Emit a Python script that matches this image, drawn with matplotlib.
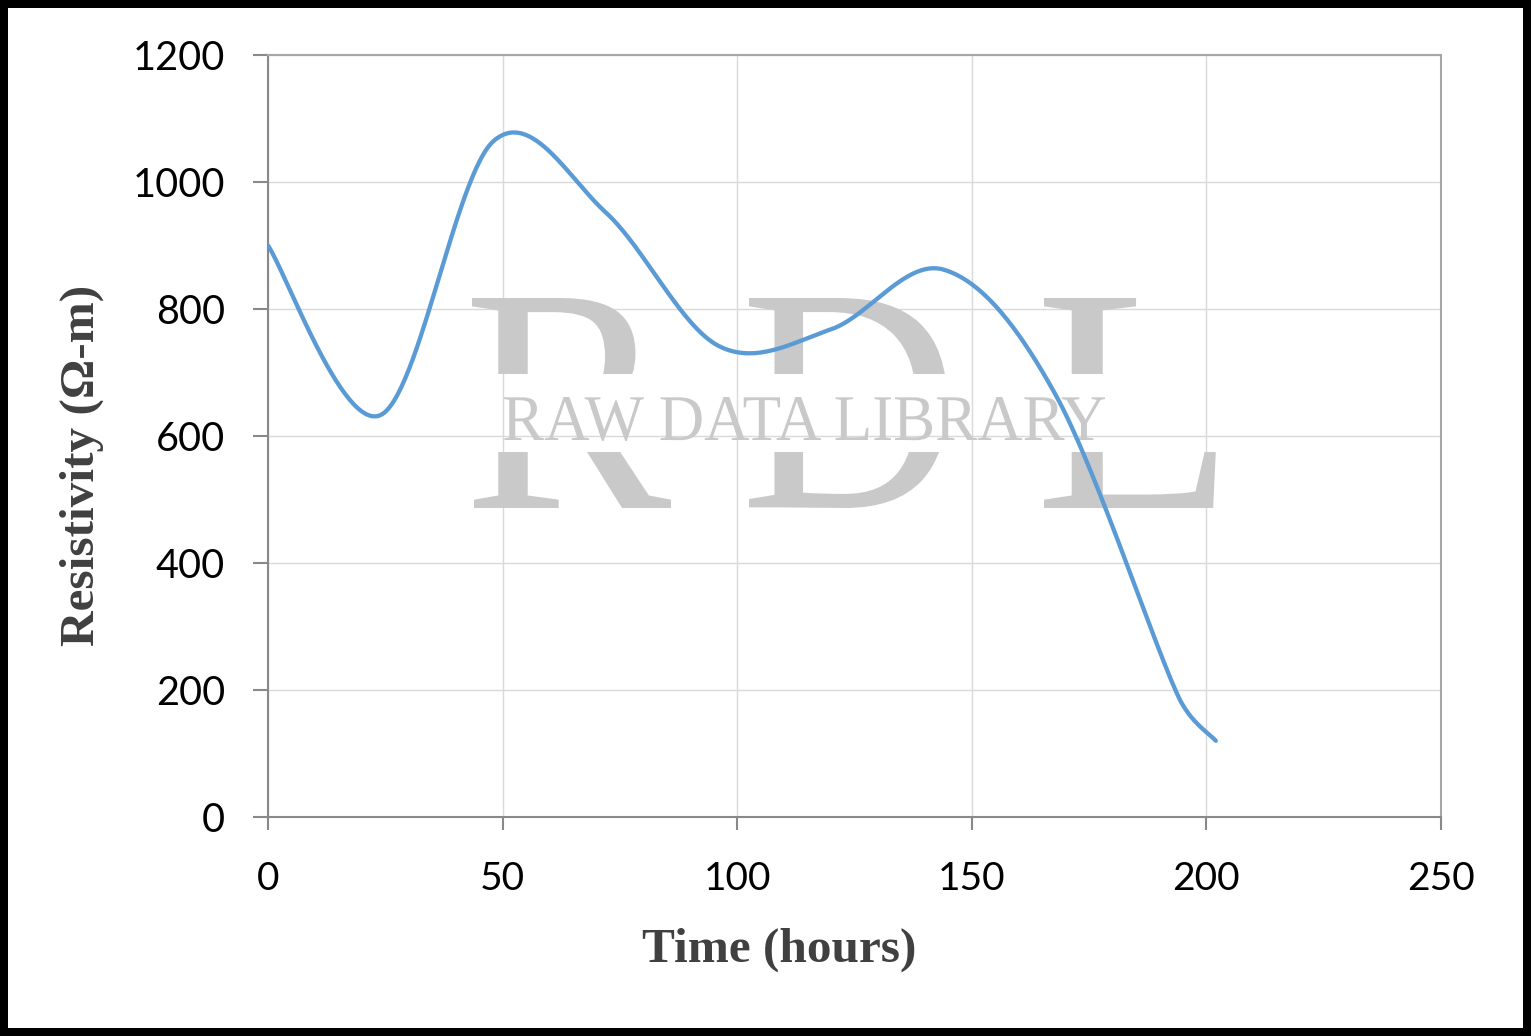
import numpy as np
import matplotlib
matplotlib.use("Agg")
import matplotlib.pyplot as plt
from matplotlib.textpath import TextPath
from matplotlib.font_manager import FontProperties
from matplotlib.patches import PathPatch, Rectangle
from matplotlib.transforms import Affine2D, Bbox, TransformedBbox

# data
hours = [0, 24, 48, 72, 96, 120, 144, 168, 194, 202]
resistivity = [900, 633, 1064, 952, 742, 768, 862, 663, 190, 120]

x_ticks = [0, 50, 100, 150, 200, 250]
y_ticks = [0, 200, 400, 600, 800, 1000, 1200]

W, H = 1531, 1036
line_color = "#5b9bd5"
label_color = "#404040"
wm_color = "#c9c9c9"

# axes box in pixels
ax_l, ax_r, ax_t, ax_b = 268, 1441, 55, 817


def smooth_line(xs, ys, n=60):
    # excel style smoothed line: cubic bezier through every point,
    # worked out in screen units, handles capped at half the segment
    kx = (ax_r - ax_l) / 250.0
    ky = (ax_b - ax_t) / 1200.0
    p = np.column_stack([np.array(xs) * kx, np.array(ys) * ky]).astype(float)
    ext = np.vstack([p[0], p, p[-1]])
    t = np.linspace(0, 1, n)[:, None]
    parts = []
    for i in range(len(p) - 1):
        p0, p1, p2, p3 = ext[i], ext[i + 1], ext[i + 2], ext[i + 3]
        seg_len = np.hypot(*(p2 - p1))
        h1 = (p2 - p0) / 6
        h2 = (p3 - p1) / 6
        for h in (h1, h2):
            ln = np.hypot(*h)
            if ln > seg_len / 2:
                h *= (seg_len / 2) / ln
        c1 = p1 + h1
        c2 = p2 - h2
        seg = (1 - t) ** 3 * p1 + 3 * (1 - t) ** 2 * t * c1 + 3 * (1 - t) * t ** 2 * c2 + t ** 3 * p2
        parts.append(seg if i == 0 else seg[1:])
    c = np.vstack(parts)
    return c[:, 0] / kx, c[:, 1] / ky


def stamp(ax, s, box, clips):
    # watermark text fitted into a pixel box (y measured from top)
    x0, y0, x1, y1 = box
    tp = TextPath((0, 0), s, size=100, prop=FontProperties(family="Liberation Serif"))
    e = tp.get_extents()
    tr = (Affine2D().translate(-e.x0, -e.y0)
          .scale((x1 - x0) / e.width / W, (y1 - y0) / e.height / H)
          .translate(x0 / W, (H - y1) / H))
    path = tr.transform_path(tp)
    for cl in clips:
        patch = PathPatch(path, transform=fig.transFigure, fc=wm_color, ec="none", zorder=1.5)
        ax.add_artist(patch)
        if cl is not None:
            yt, yb = cl
            box = Bbox([[0, (H - yb) / H], [1, (H - yt) / H]])
            patch.set_clip_box(TransformedBbox(box, fig.transFigure))


fig = plt.figure(figsize=(W / 100, H / 100), dpi=100)
ax = fig.add_axes([ax_l / W, (H - ax_b) / H, (ax_r - ax_l) / W, (ax_b - ax_t) / H])

sx, sy = smooth_line(hours, resistivity)
ax.plot(sx, sy, color=line_color, lw=3.1, solid_capstyle="round", zorder=3)

ax.set_xlim(0, 250)
ax.set_ylim(0, 1200)
ax.set_xticks(x_ticks)
ax.set_yticks(y_ticks)
ax.set_axisbelow(True)
ax.grid(True, color="#d9d9d9", lw=1.0)

for s in ["left", "bottom"]:
    ax.spines[s].set_color("#898989")
    ax.spines[s].set_linewidth(1.5)
for s in ["top", "right"]:
    ax.spines[s].set_color("#a6a6a6")
    ax.spines[s].set_linewidth(1.5)

ax.tick_params(axis="x", direction="out", length=9.4, width=1.5, color="#898989",
               pad=22, labelsize=28)
ax.tick_params(axis="y", direction="out", length=10.8, width=1.5, color="#898989",
               pad=20, labelsize=28.5)
for lab in ax.get_xticklabels() + ax.get_yticklabels():
    lab.set_fontfamily("Lato")

# watermark
top_part = (0, 374)
bot_part = (452, H)
stamp(ax, "R", (472, 298, 671, 508), [top_part, bot_part])
stamp(ax, "D", (749, 298, 947, 508), [top_part, bot_part])
stamp(ax, "L", (1044, 298, 1216, 508), [top_part, bot_part])
stamp(ax, "RAW DATA LIBRARY", (504, 397, 1105, 441), [None])

fig.text(779 / W, (H - 962) / H, "Time (hours)", family="Liberation Serif",
         weight="bold", fontsize=35.5, color=label_color, ha="center", va="baseline")
fig.text(82 / W, (H - 465) / H, "Resistivity (Ω-m)", family="Liberation Serif",
         weight="bold", fontsize=35.5, color=label_color, ha="center", va="center",
         rotation=90)

# thick black frame
fig.add_artist(Rectangle((4 / W, 4 / H), 1 - 8 / W, 1 - 8 / H, transform=fig.transFigure,
                         fill=False, ec="black", lw=5.76))

fig.savefig("out.png", dpi=100)
